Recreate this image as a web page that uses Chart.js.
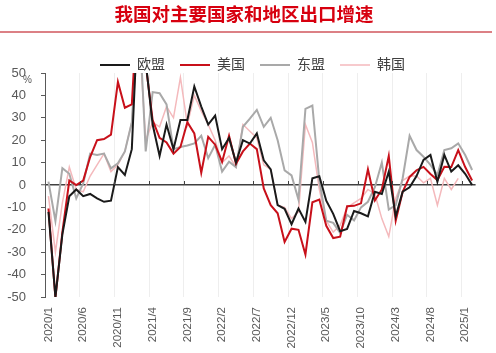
<!DOCTYPE html>
<html>
<head>
<meta charset="utf-8">
<script src="https://cdn.jsdelivr.net/npm/chart.js@4.4.1/dist/chart.umd.min.js"></script>
<style>
    html, body { margin: 0; padding: 0; background: #fff; }
    #wrap { position: relative; width: 496px; height: 353px; overflow: hidden; }
    #chart { position: absolute; left: 0; top: 0; }
    #title {
        position: absolute; left: -4px; top: 0; width: 496px; height: 27px;
        line-height: 27px; text-align: center;
        font: bold 18.5px "Noto Sans CJK SC", sans-serif; color: #d7000f;
    }
    #rule { position: absolute; left: 0; top: 31px; width: 492px; height: 2px; background: #dc8085; }
</style>
</head>
<body>
<div id="wrap">
    <canvas id="chart" width="496" height="353"></canvas>
    <div id="title">我国对主要国家和地区出口增速</div>
    <div id="rule"></div>
</div>
<script>
// Months 2020/1 .. 2025/2
const categories = [
    '2020/1', '2020/2', '2020/3', '2020/4', '2020/5', '2020/6', '2020/7', '2020/8', '2020/9', '2020/10', '2020/11', '2020/12',
    '2021/1', '2021/2', '2021/3', '2021/4', '2021/5', '2021/6', '2021/7', '2021/8', '2021/9', '2021/10', '2021/11', '2021/12',
    '2022/1', '2022/2', '2022/3', '2022/4', '2022/5', '2022/6', '2022/7', '2022/8', '2022/9', '2022/10', '2022/11', '2022/12',
    '2023/1', '2023/2', '2023/3', '2023/4', '2023/5', '2023/6', '2023/7', '2023/8', '2023/9', '2023/10', '2023/11', '2023/12',
    '2024/1', '2024/2', '2024/3', '2024/4', '2024/5', '2024/6', '2024/7', '2024/8', '2024/9', '2024/10', '2024/11', '2024/12',
    '2025/1', '2025/2'
];

// Export growth, % yoy
const euValues = [
    -12, -50, -22, -5, -2, -5, -4, -6, -7.5, -7, 8, 4.5,
    16, 85, 55, 27, 13, 27, 16, 29, 29, 44, 35, 27,
    31, 16, 21, 10, 20, 18.5, 23, 11, 7, -9, -10.6, -17.5,
    -10.5, -16.5, 3, 3.9, -7, -12.9, -20.6, -19.6, -11.6, -12.6, -14, -3,
    -4, 6, -14, -3, -1, 4, 11.2, 13.4, 1.4, 13.4, 6, 8.8,
    5, 0
];
const usValues = [
    -10.5, -50.5, -21, 2, 0, 2, 12.5, 20, 20.5, 22.5, 46, 34.5,
    36, 90, 54, 29, 21, 19, 14, 17, 28, 23, 5.5, 21.5,
    18, 10.3, 22, 9.5, 15, 18.5, 16, -1.5, -9, -12.6, -25.4, -19.5,
    -20, -31, -7.7, -6.5, -18.2, -23.7, -23.1, -9.5, -9.3, -8.2, 7, -6.9,
    -2, 13, -15.9, -3, 3.6, 6.6, 8.1, 4.9, 2.2, 8.1, 8, 15.6,
    8, 2
];
const aseanValues = [
    1.5, -16, 7.5, 5, -6, 0.7, 14, 13.4, 14, 7.4, 9.7, 15,
    28, 80, 15, 41.5, 41, 36, 16, 17, 17.6, 18.6, 22, 12,
    18, 6, 10.4, 8, 26, 29.6, 33.5, 26, 30, 20, 6.5, 4.3,
    -6.5, 34, 35.5, 2, -15.9, -16.9, -21.4, -13.3, -15.8, -10, -7.5, -1,
    10, -11, -9, 3, 22, 15.6, 12.6, 9, 4.5, 15.6, 16.4, 18.6,
    13.4, 6.7
];
const koreaValues = [
    -5, -30, -8, 8, -2, -3, 4, 9, 14, 6, 9, 15,
    28, 70, 20, 28, 26, 35, 30, 48, 27, 40, 33, 27,
    20, 10, 13, 8, 27, 24, 21, 9, 7, -9, -10, -15,
    -12, 27, 19, -2, -16, -21, -18, -10, -8, -6, -2, -4,
    -15, -23, -6, 2, 4, 4, 1, 3, -9, 3, -2, 3,
    null, null
];

const seriesNames = ['欧盟', '美国', '东盟', '韩国'];
const yTicks = { min: -50, max: 50, step: 10 };

const FONT = '"Liberation Sans", "Noto Sans CJK SC", sans-serif';
const LEGEND_HEIGHT = 30;
const LEGEND_SHIFT = 20;

// legend needs wide gaps between items but a short box, and sits a bit right of centre
const legendFit = {
    id: 'legendFit',
    afterInit(chart) {
        const legend = chart.legend;
        const fit = legend.fit;
        legend.fit = function () {
            fit.call(this);
            this.height = LEGEND_HEIGHT;
        };
    },
    afterLayout(chart) {
        chart.legend.left += LEGEND_SHIFT;
    }
};

// small tick marks on the zero line and the % unit
const axisExtras = {
    id: 'axisExtras',
    afterDraw(chart) {
        const { ctx, scales: { x, y } } = chart;
        const zy = y.getPixelForValue(0);
        const half = (x.getPixelForValue(1) - x.getPixelForValue(0)) / 2;
        ctx.save();
        ctx.strokeStyle = '#404040';
        ctx.lineWidth = 1;
        for (let i = 5; i < categories.length; i += 5) {
            const px = Math.round(x.getPixelForValue(i) - half) + 0.5;
            ctx.beginPath();
            ctx.moveTo(px, zy - 4);
            ctx.lineTo(px, zy);
            ctx.stroke();
        }
        ctx.fillStyle = '#595959';
        ctx.font = '10px ' + FONT;
        ctx.textAlign = 'left';
        ctx.textBaseline = 'middle';
        ctx.fillText('%', y.right - 22, y.getPixelForValue(yTicks.max) + 7);
        ctx.restore();
    }
};

function makeDataset(label, values, color, width) {
    return {
        label: label,
        data: values,
        borderColor: color,
        backgroundColor: color,
        borderWidth: width,
        pointRadius: 0,
        tension: 0,
        spanGaps: false
    };
}

const ctx = document.getElementById('chart').getContext('2d');
const chart = new Chart(ctx, {
    type: 'line',
    data: {
        labels: categories,
        datasets: [
            makeDataset(seriesNames[0], euValues, '#1a1a1a', 2),
            makeDataset(seriesNames[1], usValues, '#c8101a', 2),
            makeDataset(seriesNames[2], aseanValues, '#a9a9a9', 2),
            makeDataset(seriesNames[3], koreaValues, '#f4b9bc', 1.5)
        ]
    },
    options: {
        responsive: false,
        animation: false,
        devicePixelRatio: 1,
        layout: { padding: { top: 43, left: 0, right: 11, bottom: 0 } },
        plugins: {
            title: { display: false },
            tooltip: { enabled: false },
            legend: {
                display: true,
                position: 'top',
                labels: {
                    usePointStyle: true,
                    pointStyle: 'line',
                    pointStyleWidth: 30,
                    boxWidth: 30,
                    padding: 15,
                    color: '#404040',
                    font: { family: FONT, size: 14 }
                }
            }
        },
        scales: {
            x: {
                offset: true,
                afterFit: (s) => { s.height = 56; },
                border: { display: false },
                grid: {
                    offset: true,
                    drawTicks: false,
                    color: (c) => (c.index > 0 && c.index % 5 === 0 ? '#eeeeee' : 'transparent')
                },
                ticks: {
                    autoSkip: false,
                    minRotation: 90,
                    maxRotation: 90,
                    padding: 10,
                    color: '#595959',
                    font: { family: FONT, size: 11.5 },
                    callback: function (value, index) {
                        return index % 5 === 0 ? categories[index] : '';
                    }
                }
            },
            y: {
                min: yTicks.min,
                max: yTicks.max,
                afterFit: (s) => { s.width = 45; },
                border: { display: true, color: '#595959', width: 1 },
                grid: {
                    drawTicks: true,
                    tickLength: 4,
                    tickColor: '#595959',
                    tickWidth: 1,
                    color: (c) => (c.tick && c.tick.value === 0 ? '#404040' : 'transparent'),
                    lineWidth: (c) => (c.tick && c.tick.value === 0 ? 1.5 : 1)
                },
                ticks: {
                    stepSize: yTicks.step,
                    padding: 15,
                    color: '#595959',
                    font: { family: FONT, size: 13 }
                }
            }
        }
    },
    plugins: [legendFit, axisExtras]
});
</script>
</body>
</html>
